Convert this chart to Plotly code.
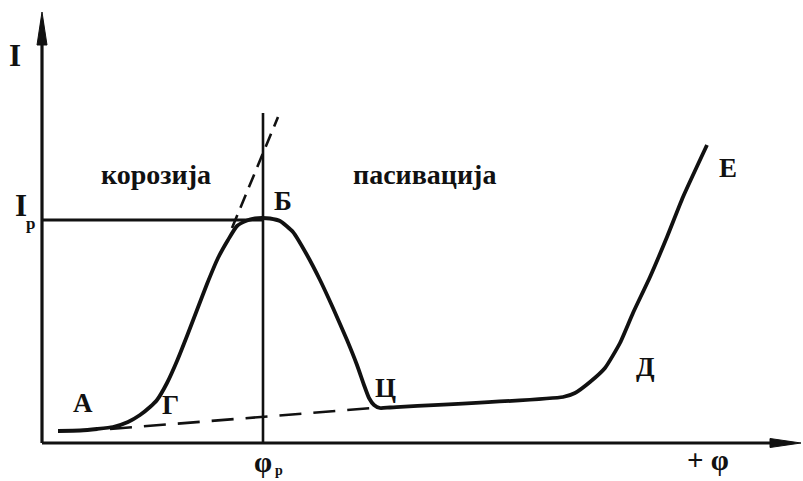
import plotly.graph_objects as go

# Anodic polarization curve: current I versus potential φ (arbitrary units)
phi = [1.6, 3.8, 5.5, 7.1, 8.6, 9.8, 10.8, 11.5, 12.5, 13.5, 14.5, 15.5, 16.5,
       17.6, 18.6, 19.5, 20.5, 21.3, 22.0, 22.8, 23.8, 25.1, 26.5, 27.8, 29.1,
       30.5, 31.5, 32.2, 32.7, 33.2, 33.8, 34.8, 52.1, 53.3, 54.8, 56.3, 57.8,
       59.1, 60.8, 62.5, 64.1, 66.5]
current = [1.2, 1.25, 1.4, 1.6, 2.1, 2.8, 3.6, 4.3, 6.0, 8.2, 10.7, 13.3, 15.9,
           18.5, 20.3, 21.7, 22.25, 22.45, 22.5, 22.45, 22.2, 21.1, 18.8, 16.3, 13.5,
           10.3, 7.8, 5.8, 4.5, 3.8, 3.5, 3.55, 4.6, 5.0, 6.1, 7.5, 10.0,
           13.0, 16.6, 20.6, 24.6, 29.8]

# Characteristic values
phi_p = 22.1          # passivation potential
I_p = 22.3            # critical passivation current
phi_top = 33.0        # top of the φp marker line

# Extrapolated (dashed) lines
base_phi = [6.8, 33.1]
base_I = [1.4, 3.5]
tangent_phi = [19.0, 23.6]
tangent_I = [21.5, 32.6]

# Axis extents
x_end, y_end = 75.9, 43.1

# Point labels
point_labels = ["А", "Г", "Б", "Ц", "Д", "Е"]
point_phi = [4.1, 12.8, 24.1, 34.3, 60.3, 68.6]
point_I = [4.0, 3.8, 24.2, 5.5, 7.6, 27.5]

region_labels = ["корозија", "пасивација"]
region_phi = [11.35, 38.2]
region_I = [26.9, 26.9]

FONT = "Liberation Serif, Times New Roman, serif"
BLACK = "#111111"

fig = go.Figure()

# axes
fig.add_trace(go.Scatter(x=[0, 0], y=[0, y_end - 1.0], mode="lines",
                         line=dict(color=BLACK, width=3.2), hoverinfo="skip"))
fig.add_trace(go.Scatter(x=[0, x_end - 1.0], y=[0, 0], mode="lines",
                         line=dict(color=BLACK, width=3.2), hoverinfo="skip"))

# arrowheads
fig.add_trace(go.Scatter(x=[-0.5, 0, 0.5, -0.5], y=[39.8, y_end, 39.8, 39.8],
                         mode="lines", fill="toself", fillcolor=BLACK,
                         line=dict(color=BLACK, width=1), hoverinfo="skip"))
fig.add_trace(go.Scatter(x=[72.8, x_end, 72.8, 72.8], y=[-0.45, 0, 0.45, -0.45],
                         mode="lines", fill="toself", fillcolor=BLACK,
                         line=dict(color=BLACK, width=1), hoverinfo="skip"))

# φp vertical marker and Ip horizontal marker
fig.add_trace(go.Scatter(x=[phi_p, phi_p], y=[0, phi_top], mode="lines",
                         line=dict(color=BLACK, width=2.6), hoverinfo="skip"))
fig.add_trace(go.Scatter(x=[0, phi_p], y=[I_p, I_p], mode="lines",
                         line=dict(color=BLACK, width=3), hoverinfo="skip"))

# dashed extrapolations
fig.add_trace(go.Scatter(x=base_phi, y=base_I, mode="lines",
                         line=dict(color=BLACK, width=2.6, dash="22px,12px"),
                         hoverinfo="skip"))
fig.add_trace(go.Scatter(x=tangent_phi, y=tangent_I, mode="lines",
                         line=dict(color=BLACK, width=2.6, dash="14px,8px"),
                         hoverinfo="skip"))

# polarization curve
fig.add_trace(go.Scatter(x=phi, y=current, mode="lines",
                         line=dict(color=BLACK, width=3.8, shape="spline", smoothing=0.5),
                         hoverinfo="skip"))

ann = []
for t, x, y in zip(point_labels, point_phi, point_I):
    ann.append(dict(x=x, y=y, text=t, font=dict(size=27)))
for t, x, y in zip(region_labels, region_phi, region_I):
    ann.append(dict(x=x, y=y, text=t, font=dict(size=28)))
ann += [
    dict(x=-2.7, y=38.8, text="I", font=dict(size=31)),
    dict(x=-2.1, y=23.8, text="I", font=dict(size=31)),
    dict(x=-1.2, y=22.0, text="p", font=dict(size=17)),
    dict(x=22.1, y=-1.9, text="φ", font=dict(size=29)),
    dict(x=23.7, y=-2.75, text="p", font=dict(size=14)),
    dict(x=66.6, y=-1.7, text="+ φ", font=dict(size=29)),
]
for a in ann:
    a.update(xref="x", yref="y", showarrow=False, xanchor="center", yanchor="middle")
    a["font"].update(family=FONT, color=BLACK, weight="bold")

fig.update_layout(
    width=803, height=481,
    margin=dict(l=0, r=0, t=0, b=0),
    paper_bgcolor="white", plot_bgcolor="white",
    showlegend=False,
    annotations=ann,
    xaxis=dict(range=[-4.2, 76.1], visible=False, fixedrange=True),
    yaxis=dict(range=[-3.8, 44.3], visible=False, fixedrange=True),
)

fig.write_html("out.html")
